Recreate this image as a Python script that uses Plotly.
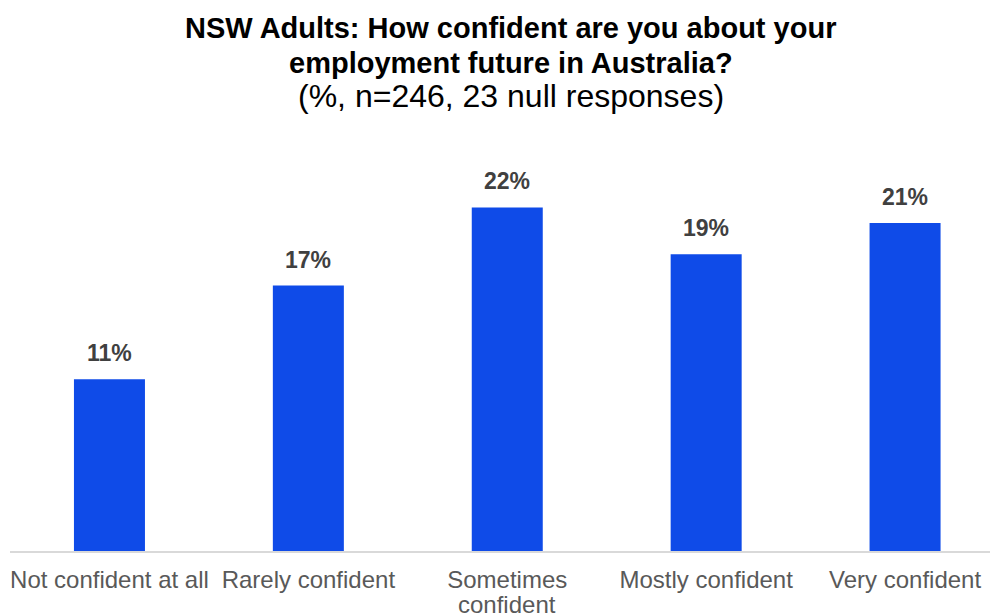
import plotly.graph_objects as go

categories = ["Not confident at all", "Rarely confident", "Sometimes<br>confident",
              "Mostly confident", "Very confident"]
values = [11, 17, 22, 19, 21]
labels = [f"{v}%" for v in values]

tick_font = dict(family="Liberation Sans, Arial", size=24, color="#595959")

fig = go.Figure()
fig.add_trace(go.Bar(
    x=list(range(len(categories))), y=values,
    marker=dict(color="#0F4BE8", line=dict(width=0)),
    width=0.357, hoverinfo="skip",
))

for i, (v, t) in enumerate(zip(values, labels)):
    fig.add_annotation(x=i, y=v, text=t, showarrow=False, yanchor="bottom",
                       yshift=11, font=dict(family="Liberation Sans, Arial", size=23,
                                            color="#404040", weight="bold"))

# first line of each category as tick label, following lines as tighter-spaced text
first_lines = [c.split("<br>")[0] for c in categories]
for i, c in enumerate(categories):
    for j, extra in enumerate(c.split("<br>")[1:], start=1):
        fig.add_annotation(x=i, y=0, text=extra, showarrow=False, yanchor="middle",
                           yshift=-(29 + 24 * j), font=tick_font)

title_font = dict(family="Liberation Sans, Arial", size=29, color="#000000")
sub_font = dict(family="Liberation Sans, Arial", size=32, color="#000000")
fig.add_annotation(xref="paper", yref="paper", x=0.511, y=1.0, yshift=92,
                   text="<b>NSW Adults: How confident are you about your</b>",
                   showarrow=False, font=title_font, yanchor="middle")
fig.add_annotation(xref="paper", yref="paper", x=0.511, y=1.0, yshift=57,
                   text="<b>employment future in Australia?</b>",
                   showarrow=False, font=title_font, yanchor="middle")
fig.add_annotation(xref="paper", yref="paper", x=0.511, y=1.0, yshift=24,
                   text="(%, n=246, 23 null responses)",
                   showarrow=False, font=sub_font, yanchor="middle")

fig.update_layout(
    width=990, height=614,
    margin=dict(l=10, r=0, t=120, b=63, autoexpand=False),
    paper_bgcolor="white", plot_bgcolor="white",
    showlegend=False,
    xaxis=dict(tickmode="array", tickvals=list(range(len(categories))), ticktext=first_lines,
               range=[-0.5, 4.427], showline=True, linecolor="#D9D9D9", linewidth=2,
               showgrid=False, zeroline=False, ticks="", ticklen=0, automargin=False,
               ticklabelstandoff=6, tickfont=tick_font),
    yaxis=dict(range=[0, 27.6], visible=False, showgrid=False, zeroline=False,
               automargin=False),
)

fig.write_html("out.html")
